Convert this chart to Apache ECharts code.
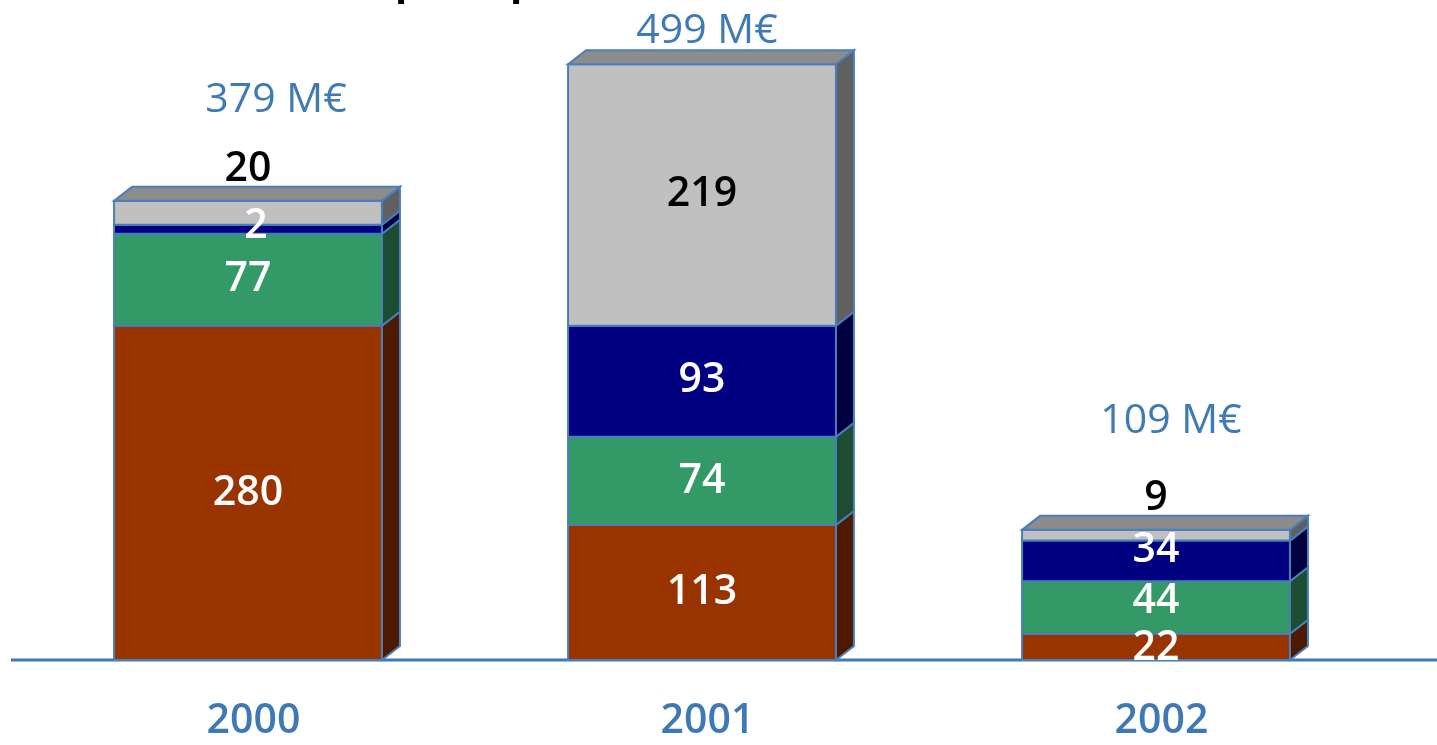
<!DOCTYPE html>
<html>
<head>
<meta charset="utf-8">
<script src="https://cdn.jsdelivr.net/npm/echarts@6/dist/echarts.min.js"></script>
<style>
  html, body { margin: 0; padding: 0; background: #fff; }
  #chart { width: 1437px; height: 745px; }
</style>
</head>
<body>
<div id="chart"></div>
<script>
// values (M€)
const years = ['2000', '2001', '2002'];
const brown = [280, 113, 22];
const green = [77, 74, 44];
const navy = [2, 93, 34];
const grey = [20, 219, 9];
const totals = [379, 499, 109];

// label nudges (px), same order as the arrays above
const labelDy = [
  [0, 0, 1],
  [0, 0, -6],
  [-3, -1, -11],
  [null, -1, null]   // null -> label sits above the block
];
const totalOffset = [[28, -107], [5, -33], [15, -109]];

const DX = 18, DY = 14, MIN_PX = 9, BORDER = '#4a7ebb';
const FONT = '"Open Sans", "Noto Sans", sans-serif';

const layers = [
  { vals: brown, front: '#993300', side: '#4d1a00', text: '#fff' },
  { vals: green, front: '#339966', side: '#1c4d33', text: '#fff' },
  { vals: navy, front: '#000080', side: '#000040', text: '#fff' },
  { vals: grey, front: '#c0c0c0', side: '#606060', top: '#8c8c8c', text: '#000' }
];

const chart = echarts.init(document.getElementById('chart'));

// very thin blocks are drawn with a minimum thickness, pushing the ones above up
function lift(li, ci, api) {
  let s = 0;
  for (let k = 0; k < li; k++) {
    const h = api.size([0, layers[k].vals[ci]])[1];
    if (h < MIN_PX) s += MIN_PX - h;
  }
  return s;
}

function makeRender(li) {
  const L = layers[li];
  return function (params, api) {
    const ci = api.value(0), base = api.value(1), val = api.value(2);
    const p0 = api.coord([ci, base]);
    const p1 = api.coord([ci, base + val]);
    const w = api.size([1, 0])[0] * 0.59;
    const up = lift(li, ci, api);
    const x0 = p0[0] - w / 2, yb = p0[1] - up;
    const yt = Math.min(p1[1] - up, yb - MIN_PX);
    const st = { stroke: BORDER, lineWidth: 2 };
    const kids = [
      { type: 'polygon', shape: { points: [[x0 + w, yb], [x0 + w + DX, yb - DY], [x0 + w + DX, yt - DY], [x0 + w, yt]] },
        style: Object.assign({ fill: L.side }, st) },
      { type: 'rect', shape: { x: x0, y: yt, width: w, height: yb - yt },
        style: Object.assign({ fill: L.front }, st) }
    ];
    if (L.top) {
      kids.push({ type: 'polygon', shape: { points: [[x0, yt], [x0 + DX, yt - DY], [x0 + w + DX, yt - DY], [x0 + w, yt]] },
        style: Object.assign({ fill: L.top }, st) });
    }
    const dy = labelDy[li][ci];
    const ly = dy === null ? yt - 32 : (yb + yt) / 2 + dy;
    kids.push({ type: 'text', z2: 100,
      style: { text: String(val), x: p0[0] + (li === 2 && ci === 0 ? 8 : 0), y: ly, align: 'center', verticalAlign: 'middle',
        fill: L.text, font: '600 41px ' + FONT } });
    return { type: 'group', children: kids };
  };
}

const series = layers.map((L, li) => ({
  type: 'custom',
  renderItem: makeRender(li),
  encode: { x: 0, y: 2 },
  data: years.map((y, i) => {
    let base = 0;
    for (let k = 0; k < li; k++) base += layers[k].vals[i];
    return [i, base, L.vals[i]];
  })
}));

series.push({
  type: 'custom',
  encode: { x: 0, y: 1 },
  data: totals.map((t, i) => [i, t]),
  renderItem: function (params, api) {
    const i = api.value(0), p = api.coord([i, api.value(1)]);
    return { type: 'text', z2: 100,
      style: { text: api.value(1) + ' M€', x: p[0] + totalOffset[i][0], y: p[1] + totalOffset[i][1],
        align: 'center', verticalAlign: 'middle', fill: '#3f7ab7', font: '500 41px ' + FONT } };
  }
});

chart.setOption({
  backgroundColor: '#fff',
  animation: false,
  grid: { left: 21, right: 54, top: 3.3, bottom: 85 },
  xAxis: {
    type: 'category',
    data: years,
    axisLine: { show: false },
    axisTick: { show: false },
    axisLabel: { color: '#3e79b6', fontSize: 41, fontWeight: 600, fontFamily: FONT, margin: 41, padding: [0, 0, 0, 11] }
  },
  yAxis: { type: 'value', min: 0, max: 550, show: false },
  graphic: [
    { type: 'line', z: 0, shape: { x1: 11, y1: 660, x2: 1437, y2: 660 }, style: { stroke: '#3f78b8', lineWidth: 3 } },
    { type: 'text', left: 395, top: -36, style: { text: 'p', font: 'bold 40px ' + FONT, fill: '#000' } },
    { type: 'text', left: 510, top: -36, style: { text: 'p', font: 'bold 40px ' + FONT, fill: '#000' } }
  ],
  series: series
});
</script>
</body>
</html>
